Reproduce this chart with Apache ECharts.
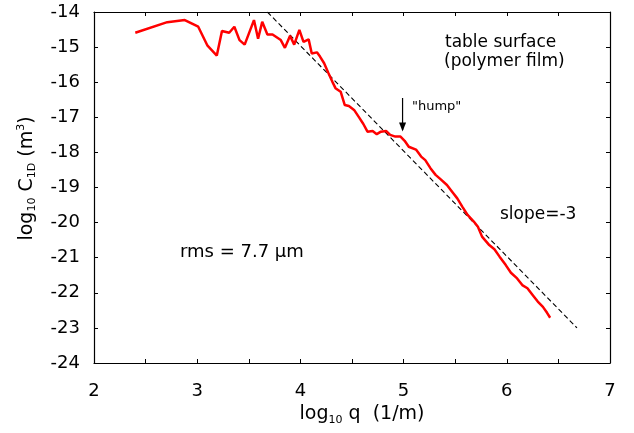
<!DOCTYPE html>
<html>
<head>
<meta charset="utf-8">
<script src="https://cdn.jsdelivr.net/npm/echarts@6/dist/echarts.min.js"></script>
<style>
html,body{margin:0;padding:0;background:#fff;}
#chart{width:634px;height:433px;}
</style>
</head>
<body>
<div id="chart"></div>
<script>
// log10 q (1/m)
var logQ = [2.40,2.71,2.88,3.01,3.10,3.19,3.24,3.31,3.36,3.41,3.46,3.55,3.59,3.63,3.68,3.73,3.81,3.85,3.90,3.94,3.99,4.03,4.08,4.11,4.16,4.19,4.23,4.27,4.31,4.34,4.39,4.43,4.47,4.52,4.57,4.61,4.65,4.70,4.74,4.78,4.83,4.87,4.92,4.97,5.01,5.05,5.12,5.17,5.21,5.26,5.31,5.36,5.42,5.47,5.52,5.57,5.62,5.68,5.72,5.76,5.83,5.88,5.93,5.99,6.04,6.10,6.15,6.20,6.25,6.30,6.35,6.39,6.42];
// log10 C1D (m^3)
var logC = [-14.59,-14.29,-14.23,-14.42,-14.96,-15.24,-14.54,-14.59,-14.42,-14.80,-14.93,-14.23,-14.76,-14.28,-14.64,-14.64,-14.80,-15.02,-14.68,-14.93,-14.51,-14.85,-14.78,-15.18,-15.15,-15.27,-15.46,-15.73,-15.99,-16.17,-16.27,-16.65,-16.68,-16.79,-17.01,-17.19,-17.41,-17.39,-17.48,-17.41,-17.39,-17.50,-17.55,-17.55,-17.67,-17.84,-17.92,-18.12,-18.22,-18.45,-18.64,-18.77,-18.93,-19.12,-19.31,-19.55,-19.78,-19.97,-20.12,-20.40,-20.64,-20.76,-20.97,-21.21,-21.43,-21.59,-21.78,-21.87,-22.06,-22.25,-22.40,-22.57,-22.71];
// slope = -3 reference line
var slopeX = [3.68, 6.68];
var slopeY = [-14.0, -23.0];
// "hump" arrow
var humpX = [4.99, 4.99];
var humpY = [-16.45, -17.36];
var xTicks = [2,3,4,5,6,7];
var yTicks = [-24,-23,-22,-21,-20,-19,-18,-17,-16,-15,-14];

var FONT = 'DejaVu Sans';
var chart = echarts.init(document.getElementById('chart'), null, {renderer:'canvas'});

function zip(a,b){var r=[];for(var i=0;i<a.length;i++)r.push([a[i],b[i]]);return r;}

var axLine = {show:true, lineStyle:{color:'#000', width:1.2}};
var axTick = {show:true, inside:true, length:4, lineStyle:{color:'#000', width:1}};

var option = {
  animation:false,
  backgroundColor:'#fff',
  grid:{left:94, right:24, top:12, bottom:70, containLabel:false},
  xAxis:[{
    type:'value', min:xTicks[0], max:xTicks[xTicks.length-1], interval:0.5, position:'bottom',
    axisLine:axLine, axisTick:axTick, splitLine:{show:false},
    axisLabel:{margin:19, fontFamily:FONT, fontSize:18, color:'#000',
      formatter:function(v){return Math.abs(v-Math.round(v))<1e-9 ? String(Math.round(v)) : '';}},
    name:'{a|log}{s|10}{a| q  (1/m)}', nameLocation:'middle', nameGap:38,
    nameTextStyle:{fontFamily:FONT, color:'#000', padding:[0,0,0,20],
      rich:{a:{fontFamily:FONT,fontSize:19,color:'#000',lineHeight:22},
            s:{fontFamily:FONT,fontSize:11,color:'#000',lineHeight:12,verticalAlign:'bottom'}}}
  },{
    type:'value', min:xTicks[0], max:xTicks[xTicks.length-1], interval:0.5, position:'top',
    axisLine:axLine, axisTick:axTick, axisLabel:{show:false}, splitLine:{show:false}
  }],
  yAxis:[{
    type:'value', min:yTicks[0], max:yTicks[yTicks.length-1], interval:1, position:'left',
    axisLine:axLine, axisTick:axTick, splitLine:{show:false},
    axisLabel:{margin:14, fontFamily:FONT, fontSize:18, color:'#000'},
    name:'{a|log}{s|10}{a| C}{s|1D}{a| (m}{p|3}{a|)}', nameLocation:'middle', nameGap:56, nameRotate:90,
    nameTextStyle:{fontFamily:FONT, color:'#000', padding:[0,0,0,18],
      rich:{a:{fontFamily:FONT,fontSize:19,color:'#000',lineHeight:22},
            s:{fontFamily:FONT,fontSize:11,color:'#000',lineHeight:12,verticalAlign:'bottom'},
            p:{fontFamily:FONT,fontSize:11,color:'#000',lineHeight:12,verticalAlign:'top'}}}
  },{
    type:'value', min:yTicks[0], max:yTicks[yTicks.length-1], interval:1, position:'right',
    axisLine:axLine, axisTick:axTick, axisLabel:{show:false}, splitLine:{show:false}
  }],
  series:[{
    type:'line', data:zip(slopeX,slopeY), showSymbol:false, symbol:'none',
    lineStyle:{color:'#000', width:1.1, type:[5,3]}, z:2
  },{
    type:'line', data:zip(logQ,logC), showSymbol:false, symbol:'none',
    lineStyle:{color:'#ff0000', width:2.5}, z:3
  },{
    type:'line', data:zip(humpX,humpY), showSymbol:false, symbol:'none',
    lineStyle:{color:'#000', width:1.2}, z:4,
    markPoint:{symbol:'triangle', symbolSize:[7,9], symbolRotate:180, symbolOffset:[0,-3],
      itemStyle:{color:'#000'}, label:{show:false},
      data:[{coord:[humpX[1],humpY[1]]}]}
  }],
  graphic:[
    {type:'text', left:445, top:34, style:{text:'table surface', font:'17px "DejaVu Sans"', fill:'#000'}},
    {type:'text', left:444, top:53, style:{text:'(polymer film)', font:'17px "DejaVu Sans"', fill:'#000'}},
    {type:'text', left:412, top:100, style:{text:'"hump"', font:'13px "DejaVu Sans"', fill:'#000'}},
    {type:'text', left:500, top:206, style:{text:'slope=-3', font:'17px "DejaVu Sans"', fill:'#000'}},
    {type:'text', left:180, top:243, style:{text:'rms = 7.7 \u03bcm', font:'18px "DejaVu Sans"', fill:'#000'}}
  ]
};
chart.setOption(option);
</script>
</body>
</html>
